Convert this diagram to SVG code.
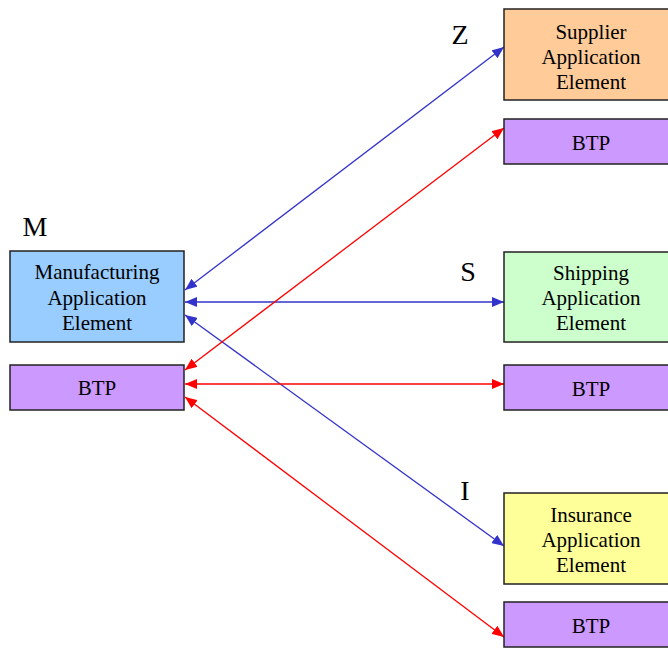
<svg xmlns="http://www.w3.org/2000/svg" width="668" height="650" viewBox="0 0 668 650">
<defs>
<marker id="ab" viewBox="0 0 12 10" refX="12" refY="5" markerWidth="12" markerHeight="10" markerUnits="userSpaceOnUse" orient="auto-start-reverse"><path d="M0,0 L12,5 L0,10 Z" fill="#3333cc"/></marker>
<marker id="ar" viewBox="0 0 12 10" refX="12" refY="5" markerWidth="12" markerHeight="10" markerUnits="userSpaceOnUse" orient="auto-start-reverse"><path d="M0,0 L12,5 L0,10 Z" fill="#ff0000"/></marker>
<style>
.box{stroke:#222;stroke-width:1.5}
.t{font-family:"Liberation Serif","Times New Roman",serif;font-size:21px;fill:#000;text-anchor:middle}
.lbl{font-family:"Liberation Serif","Times New Roman",serif;font-size:28px;fill:#000;text-anchor:middle}
.b{stroke:#3333cc;stroke-width:1.3;fill:none;marker-start:url(#ab);marker-end:url(#ab)}
.r{stroke:#ff0000;stroke-width:1.3;fill:none;marker-start:url(#ar);marker-end:url(#ar)}
</style>
</defs>
<rect width="668" height="650" fill="#fff"/>
<g id="connectors">
<line class="b" x1="185" y1="290" x2="504" y2="47"/>
<line class="b" x1="185" y1="302" x2="504" y2="302"/>
<line class="b" x1="185" y1="315" x2="504" y2="546"/>
<line class="r" x1="185" y1="370" x2="504" y2="128"/>
<line class="r" x1="185" y1="384" x2="504" y2="384"/>
<line class="r" x1="185" y1="397" x2="504" y2="637"/>
</g>
<g id="label-M"><text class="lbl" x="35" y="236">M</text></g>
<g id="label-Z"><text class="lbl" x="460" y="44">Z</text></g>
<g id="label-S"><text class="lbl" x="468" y="281">S</text></g>
<g id="label-I"><text class="lbl" x="465" y="500">I</text></g>
<g id="manufacturing">
<rect class="box" x="10" y="251" width="174" height="91" fill="#99ccff"/>
<text class="t" x="97" y="279">Manufacturing</text>
<text class="t" x="97" y="305">Application</text>
<text class="t" x="97" y="330">Element</text>
</g>
<g id="btp-m">
<rect class="box" x="10" y="365" width="174" height="45" fill="#cc99ff"/>
<text class="t" x="97" y="395">BTP</text>
</g>
<g id="supplier">
<rect class="box" x="504" y="9" width="175" height="91" fill="#ffcc99"/>
<text class="t" x="591" y="39">Supplier</text>
<text class="t" x="591" y="64">Application</text>
<text class="t" x="591" y="89">Element</text>
</g>
<g id="btp-z">
<rect class="box" x="504" y="119" width="175" height="45" fill="#cc99ff"/>
<text class="t" x="591" y="150">BTP</text>
</g>
<g id="shipping">
<rect class="box" x="504" y="252" width="175" height="90" fill="#ccffcc"/>
<text class="t" x="591" y="280">Shipping</text>
<text class="t" x="591" y="305">Application</text>
<text class="t" x="591" y="330">Element</text>
</g>
<g id="btp-s">
<rect class="box" x="504" y="365" width="175" height="45" fill="#cc99ff"/>
<text class="t" x="591" y="396">BTP</text>
</g>
<g id="insurance">
<rect class="box" x="504" y="493" width="175" height="91" fill="#ffff99"/>
<text class="t" x="591" y="522">Insurance</text>
<text class="t" x="591" y="547">Application</text>
<text class="t" x="591" y="572">Element</text>
</g>
<g id="btp-i">
<rect class="box" x="504" y="602" width="175" height="45" fill="#cc99ff"/>
<text class="t" x="591" y="633">BTP</text>
</g>
</svg>
